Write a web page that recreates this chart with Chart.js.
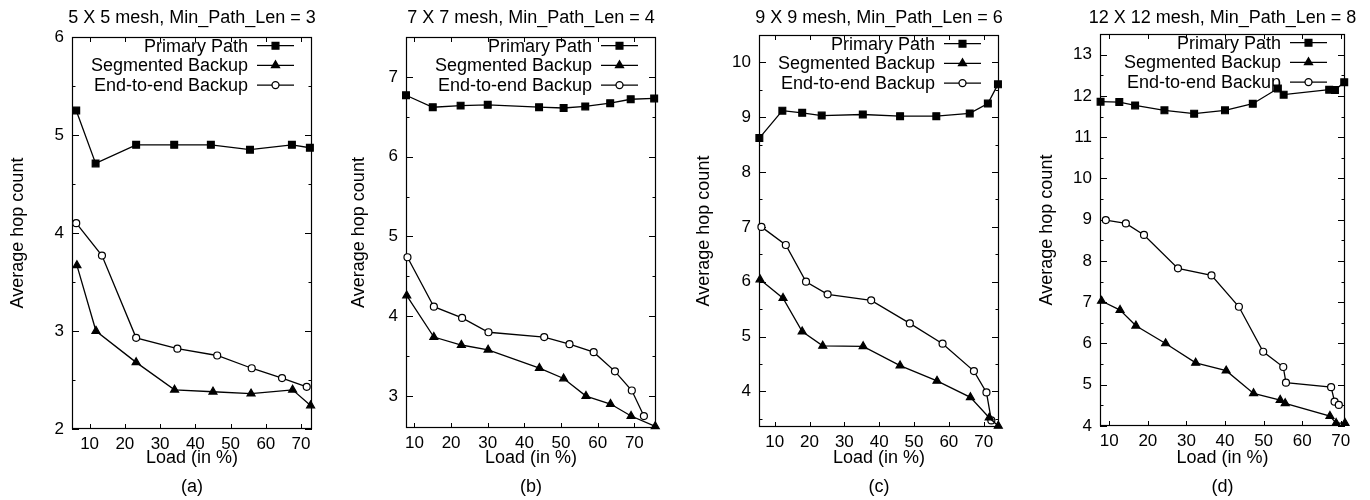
<!DOCTYPE html>
<html>
<head>
<meta charset="utf-8">
<script src="https://cdn.jsdelivr.net/npm/chart.js@4.4.1/dist/chart.umd.min.js"></script>
<style>
    body { margin: 0; background: #fff; width: 1370px; height: 500px; overflow: hidden; position: relative; }
    canvas { position: absolute; top: 0; }
</style>
</head>
<body>
<canvas id="chartA" width="340" height="500" style="left:0"></canvas>
<canvas id="chartB" width="340" height="500" style="left:340px"></canvas>
<canvas id="chartC" width="340" height="500" style="left:680px"></canvas>
<canvas id="chartD" width="350" height="500" style="left:1020px"></canvas>
<script>
// Nomes das séries (legenda)
const seriesNames = ['Primary Path', 'Segmented Backup', 'End-to-end Backup'];

// Ticks
const xTicks = [10, 20, 30, 40, 50, 60, 70];
const yTicksA = [2, 3, 4, 5, 6];
const yTicksB = [3, 4, 5, 6, 7];
const yTicksC = [4, 5, 6, 7, 8, 9, 10];
const yTicksD = [4, 5, 6, 7, 8, 9, 10, 11, 12, 13];

// (a) 5 X 5 mesh
const aLoadPrimary = [6.2, 11.7, 23.2, 34.0, 44.4, 55.5, 67.4, 72.5];
const aHopsPrimary = [5.25, 4.71, 4.90, 4.90, 4.90, 4.85, 4.90, 4.87];
const aLoadSegmented = [6.4, 11.8, 23.2, 34.1, 45.0, 55.8, 67.6, 72.7];
const aHopsSegmented = [3.67, 3.00, 2.68, 2.40, 2.38, 2.36, 2.40, 2.24];
const aLoadEndToEnd = [6.2, 13.5, 23.2, 34.9, 46.2, 56.0, 64.6, 71.6];
const aHopsEndToEnd = [4.10, 3.77, 2.93, 2.82, 2.75, 2.62, 2.52, 2.43];

// (b) 7 X 7 mesh
const bLoadPrimary = [7.7, 15.0, 22.6, 30.0, 44.0, 50.7, 56.6, 63.4, 69.0, 75.4];
const bHopsPrimary = [6.77, 6.62, 6.64, 6.65, 6.62, 6.61, 6.63, 6.67, 6.72, 6.73];
const bLoadSegmented = [7.9, 15.3, 22.8, 30.1, 44.1, 50.7, 56.8, 63.5, 69.1, 75.7];
const bHopsSegmented = [4.26, 3.74, 3.64, 3.58, 3.35, 3.22, 3.00, 2.90, 2.75, 2.62];
const bLoadEndToEnd = [8.1, 15.3, 23.0, 30.2, 45.4, 52.3, 58.9, 64.7, 69.3, 72.6];
const bHopsEndToEnd = [4.74, 4.12, 3.98, 3.80, 3.74, 3.65, 3.55, 3.31, 3.07, 2.75];

// (c) 9 X 9 mesh
const cLoadPrimary = [5.6, 12.2, 17.9, 23.5, 35.3, 46.0, 56.4, 66.0, 71.2, 74.1];
const cHopsPrimary = [8.62, 9.12, 9.08, 9.03, 9.05, 9.02, 9.02, 9.07, 9.25, 9.60];
const cLoadSegmented = [5.8, 12.4, 17.9, 23.8, 35.4, 46.0, 56.6, 66.2, 71.6, 74.2];
const cHopsSegmented = [6.04, 5.70, 5.09, 4.83, 4.82, 4.47, 4.19, 3.89, 3.52, 3.37];
const cLoadEndToEnd = [6.2, 13.2, 19.0, 25.2, 37.7, 48.8, 58.2, 67.2, 70.8, 72.2];
const cHopsEndToEnd = [7.00, 6.67, 6.00, 5.77, 5.66, 5.24, 4.87, 4.37, 3.98, 3.47];

// (d) 12 X 12 mesh
const dLoadPrimary = [7.75, 12.6, 16.7, 24.3, 32.0, 40.0, 47.2, 53.7, 55.2, 67.0, 68.5, 70.9];
const dHopsPrimary = [11.86, 11.85, 11.77, 11.65, 11.57, 11.65, 11.81, 12.18, 12.03, 12.15, 12.14, 12.33];
const dLoadSegmented = [8.0, 12.8, 16.9, 24.6, 32.4, 40.3, 47.4, 54.3, 55.6, 67.2, 68.8, 71.1];
const dHopsSegmented = [7.03, 6.81, 6.43, 6.00, 5.53, 5.34, 4.79, 4.63, 4.55, 4.24, 4.07, 4.07];
const dLoadEndToEnd = [9.1, 14.3, 19.0, 27.8, 36.5, 43.6, 49.9, 55.1, 55.8, 67.5, 68.4, 69.5];
const dHopsEndToEnd = [8.99, 8.91, 8.63, 7.82, 7.65, 6.89, 5.80, 5.43, 5.05, 4.94, 4.59, 4.51];

// Estilo dos marcadores por série
const markers = [
    { pointStyle: 'rect', radius: 4.8, fill: '#000' },
    { pointStyle: 'triangle', radius: 4.6, fill: '#000' },
    { pointStyle: 'circle', radius: 3.5, fill: '#fff' }
];

const FONT = "'Liberation Sans', Arial, Helvetica, sans-serif";
Chart.defaults.font.family = FONT;
Chart.defaults.color = '#000';

// Layout de cada painel (área do gráfico em px locais do canvas)
const panels = [
    { id: 'chartA', title: '5 X 5 mesh, Min_Path_Len = 3', caption: '(a)', x: [5, 73.1], y: [2, 6], yTicks: yTicksA,
      area: { left: 72, right: 312, top: 37, bottom: 429 }, yTitleX: 23,
      series: [[aLoadPrimary, aHopsPrimary], [aLoadSegmented, aHopsSegmented], [aLoadEndToEnd, aHopsEndToEnd]] },
    { id: 'chartB', title: '7 X 7 mesh, Min_Path_Len = 4', caption: '(b)', x: [7.7, 75.9], y: [2.6, 7.5], yTicks: yTicksB,
      area: { left: 66, right: 316, top: 37, bottom: 428 }, yTitleX: 24,
      series: [[bLoadPrimary, bHopsPrimary], [bLoadSegmented, bHopsSegmented], [bLoadEndToEnd, bHopsEndToEnd]] },
    { id: 'chartC', title: '9 X 9 mesh, Min_Path_Len = 6', caption: '(c)', x: [5.5, 74.4], y: [3.35, 10.5], yTicks: yTicksC,
      area: { left: 79, right: 319, top: 35, bottom: 427 }, yTitleX: 28.8,
      series: [[cLoadPrimary, cHopsPrimary], [cLoadSegmented, cHopsSegmented], [cLoadEndToEnd, cHopsEndToEnd]] },
    { id: 'chartD', title: '12 X 12 mesh, Min_Path_Len = 8', caption: '(d)', x: [7.6, 71.1], y: [4, 13.5], yTicks: yTicksD,
      area: { left: 80, right: 325, top: 34, bottom: 426 }, yTitleX: 32.2,
      series: [[dLoadPrimary, dHopsPrimary], [dLoadSegmented, dHopsSegmented], [dLoadEndToEnd, dHopsEndToEnd]] }
];

// Moldura com ticks para dentro (estilo gnuplot), legenda e textos
const gnuplotFrame = {
    id: 'gnuplotFrame',
    beforeDatasetsDraw(chart) {
        const { ctx, chartArea: a, scales: { x, y } } = chart;
        ctx.save();
        ctx.strokeStyle = '#000';
        ctx.lineWidth = 1.2;
        ctx.strokeRect(a.left + 0.5, a.top + 0.5, a.right - a.left - 1, a.bottom - a.top - 1);
        ctx.lineWidth = 1;
        ctx.beginPath();
        for (let v = Math.ceil(y.min * 2) / 2; v <= y.max + 1e-9; v += 0.5) {
            const py = Math.round(y.getPixelForValue(v)) + 0.5;
            const len = Number.isInteger(v) ? 7 : 3.5;
            ctx.moveTo(a.left, py); ctx.lineTo(a.left + len, py);
            ctx.moveTo(a.right, py); ctx.lineTo(a.right - len, py);
        }
        xTicks.forEach(v => {
            const px = Math.round(x.getPixelForValue(v)) + 0.5;
            ctx.moveTo(px, a.bottom); ctx.lineTo(px, a.bottom - 5);
            ctx.moveTo(px, a.top); ctx.lineTo(px, a.top + 5);
        });
        ctx.stroke();
        ctx.restore();
    },
    afterDraw(chart, args, opts) {
        const { ctx, chartArea: a } = chart;
        const cx = (a.left + a.right) / 2;
        ctx.save();
        ctx.fillStyle = '#000';
        ctx.font = `18px ${FONT}`;
        ctx.textAlign = 'center';
        ctx.textBaseline = 'alphabetic';
        ctx.fillText(opts.title, cx, 23);
        ctx.fillText('Load (in %)', cx, 463);
        ctx.fillText(opts.caption, cx, 492);

        ctx.save();
        ctx.translate(opts.yTitleX, (a.top + a.bottom) / 2);
        ctx.rotate(-Math.PI / 2);
        ctx.fillText('Average hop count', 0, 0);
        ctx.restore();

        // legenda: texto alinhado à direita, amostra de linha com marcador
        chart.data.datasets.forEach((ds, i) => {
            const ry = a.top + 8.7 + i * 19.7;
            const x1 = a.right - 55, x2 = a.right - 18;
            ctx.textAlign = 'right';
            ctx.textBaseline = 'middle';
            ctx.fillStyle = '#000';
            ctx.fillText(ds.label, x1 - 9, ry + 1);
            ctx.strokeStyle = '#000';
            ctx.lineWidth = 1.3;
            ctx.beginPath();
            ctx.moveTo(x1, ry); ctx.lineTo(x2, ry);
            ctx.stroke();
            ctx.fillStyle = ds.pointBackgroundColor;
            Chart.helpers.drawPoint(ctx, { pointStyle: ds.pointStyle, radius: ds.pointRadius, rotation: 0, borderWidth: 1.2 }, (x1 + x2) / 2, ry);
        });
        ctx.restore();
    }
};

function buildChart(p) {
    const datasets = p.series.map(([loads, hops], i) => ({
        label: seriesNames[i],
        data: loads.map((v, k) => ({ x: v, y: hops[k] })),
        borderColor: '#000',
        borderWidth: 1.3,
        pointStyle: markers[i].pointStyle,
        pointRadius: markers[i].radius,
        pointBackgroundColor: markers[i].fill,
        pointBorderColor: '#000',
        pointBorderWidth: 1.2,
        tension: 0,
        clip: false
    }));

    const el = document.getElementById(p.id);
    return new Chart(el, {
        type: 'line',
        data: { datasets },
        options: {
            responsive: false,
            animation: false,
            layout: {
                autoPadding: false,
                padding: { left: 0, top: p.area.top, right: el.width - p.area.right, bottom: 0 }
            },
            plugins: {
                legend: { display: false },
                tooltip: { enabled: false },
                gnuplotFrame: { title: p.title, caption: p.caption, yTitleX: p.yTitleX }
            },
            scales: {
                x: {
                    type: 'linear',
                    min: p.x[0], max: p.x[1],
                    grid: { display: false, drawTicks: false },
                    border: { display: false },
                    ticks: { font: { size: 17 }, padding: 5, maxRotation: 0 },
                    afterBuildTicks: s => { s.ticks = xTicks.map(v => ({ value: v })); },
                    afterFit: s => { s.height = 500 - p.area.bottom; }
                },
                y: {
                    type: 'linear',
                    min: p.y[0], max: p.y[1],
                    grid: { display: false, drawTicks: false },
                    border: { display: false },
                    ticks: { font: { size: 17 }, padding: 8 },
                    afterBuildTicks: s => { s.ticks = p.yTicks.map(v => ({ value: v })); },
                    afterFit: s => { s.width = p.area.left; }
                }
            }
        },
        plugins: [gnuplotFrame]
    });
}

panels.forEach(buildChart);
</script>
</body>
</html>
